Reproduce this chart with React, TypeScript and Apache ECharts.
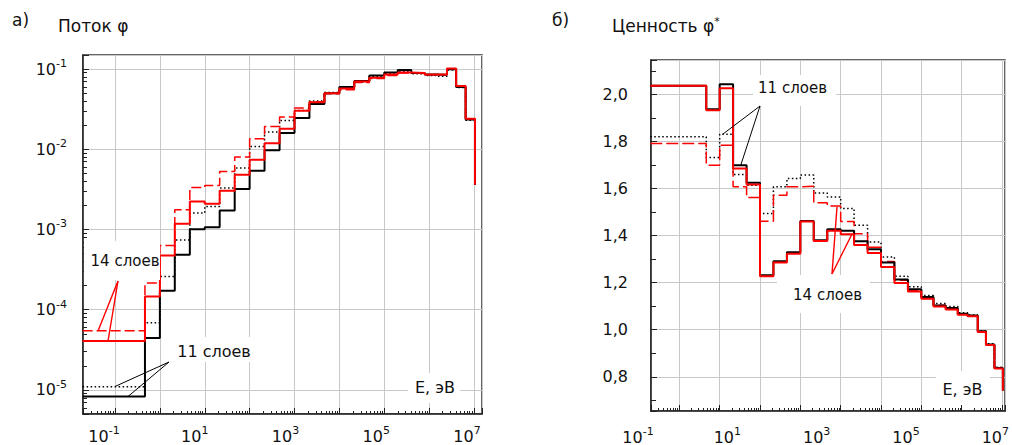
import React, { useEffect, useRef } from "react";
import * as echarts from "echarts";

// ---- Energy group structure (upper edges of groups, eV), BNAB-like ----
const groupUpperEdges = [
  0.465, 1, 2.15, 4.65, 10, 21.5, 46.5, 100, 215, 465, 1000, 2150, 4650, 1e4,
  2.15e4, 4.65e4, 1e5, 2e5, 4e5, 8e5, 1.4e6, 2.5e6, 4e6, 6.5e6, 1.05e7,
];
const thermalLowerEdge = 0.019;

// ---- Panel a: flux φ (25 groups + value at the closing edge) ----
const flux11Solid = [
  8.3e-6, 4.43e-5, 1.73e-4, 4.84e-4, 1.01e-3, 1.07e-3, 1.73e-3, 3.19e-3, 5.4e-3,
  9.7e-3, 1.59e-2, 2.45e-2, 3.66e-2, 5.0e-2, 5.96e-2, 7.08e-2, 8.32e-2, 9.07e-2,
  9.7e-2, 8.92e-2, 8.57e-2, 8.5e-2, 9.9e-2, 5.96e-2, 2.35e-2, 3.6e-3,
];
const flux11Dotted = [
  1.1e-5, 6.9e-5, 2.6e-4, 7.4e-4, 1.6e-3, 1.94e-3, 3.28e-3, 5.83e-3, 1.08e-2,
  1.64e-2, 2.28e-2, 3.05e-2, 4.0e-2, 5.1e-2, 5.9e-2, 6.9e-2, 8.1e-2, 8.8e-2,
  9.4e-2, 8.7e-2, 8.3e-2, 8.1e-2, 9.7e-2, 5.9e-2, 2.3e-2, 3.6e-3,
];
const flux14Solid = [
  4.09e-5, 1.46e-4, 4.74e-4, 1.18e-3, 2.23e-3, 2.09e-3, 3.04e-3, 4.81e-3, 7.4e-3,
  1.19e-2, 1.8e-2, 3.02e-2, 3.84e-2, 5.0e-2, 5.73e-2, 7.0e-2, 7.8e-2, 8.57e-2,
  9.07e-2, 8.92e-2, 8.57e-2, 8.57e-2, 1.017e-1, 6.14e-2, 2.4e-2, 3.6e-3,
];
const flux14Dashed = [
  5.46e-5, 2.15e-4, 6.3e-4, 1.76e-3, 3.34e-3, 3.54e-3, 5.28e-3, 7.98e-3, 1.35e-2,
  1.92e-2, 2.52e-2, 3.27e-2, 3.9e-2, 4.9e-2, 5.5e-2, 6.8e-2, 7.6e-2, 8.3e-2,
  8.9e-2, 8.8e-2, 8.5e-2, 8.5e-2, 1.0e-1, 6.1e-2, 2.4e-2, 3.6e-3,
];

// ---- Panel b: importance φ* ----
const imp11Solid = [
  2.037, 1.937, 2.043, 1.699, 1.624, 1.231, 1.291, 1.329, 1.462, 1.38, 1.427,
  1.42, 1.376, 1.342, 1.286, 1.213, 1.172, 1.139, 1.103, 1.092, 1.068, 1.06,
  0.993, 0.937, 0.837, 0.742,
];
const imp11Dotted = [
  1.82, 1.732, 1.831, 1.66, 1.614, 1.494, 1.607, 1.643, 1.657, 1.581, 1.564,
  1.515, 1.444, 1.373, 1.309, 1.227, 1.183, 1.145, 1.111, 1.099, 1.072, 1.063,
  0.995, 0.94, 0.84, 0.742,
];
const imp14Solid = [
  2.037, 1.933, 2.026, 1.685, 1.617, 1.227, 1.286, 1.323, 1.46, 1.377, 1.42,
  1.406, 1.36, 1.326, 1.266, 1.198, 1.162, 1.132, 1.099, 1.086, 1.064, 1.057,
  0.99, 0.935, 0.835, 0.742,
];
const imp14Dashed = [
  1.791, 1.699, 1.784, 1.607, 1.562, 1.461, 1.571, 1.607, 1.61, 1.539, 1.526,
  1.46, 1.408, 1.35, 1.29, 1.21, 1.168, 1.137, 1.104, 1.09, 1.066, 1.058,
  0.991, 0.936, 0.836, 0.742,
];

// ---- Axis ranges / tick labels ----
const xTickExponents = [-1, 1, 3, 5, 7];
const fluxRange = [5.02e-6, 0.1495];
const impRange = [0.6546, 2.146];
const xRangeA = [0.01936, 1.507e7];
const xRangeB = [0.01982, 1.187e7];

const FONT = "'DejaVu Sans', sans-serif";
const TXT = "#111";
const GRID_C = "#c8c8c8";

function stepData(values: number[]) {
  const lows = [thermalLowerEdge, ...groupUpperEdges.slice(0, groupUpperEdges.length - 1)];
  const pts: number[][] = lows.map((x, i) => [x, values[i]]);
  pts.push([groupUpperEdges[groupUpperEdges.length - 1], values[values.length - 1]]);
  return pts;
}

const richPow = {
  b: { fontSize: 16, lineHeight: 22, fontFamily: FONT, color: TXT },
  s: { fontSize: 11, lineHeight: 10, verticalAlign: "top", fontFamily: FONT, color: TXT },
};

function powLabel(v: number, only?: number[]) {
  const l = Math.log10(v);
  const e = Math.round(l);
  if (Math.abs(l - e) > 1e-6) return "";
  if (only && only.indexOf(e) < 0) return "";
  return `{b|10}{s|${e}}`;
}

function mainXAxis(gridIndex: number, range: number[]) {
  return {
    type: "log",
    gridIndex,
    min: range[0],
    max: range[1],
    logBase: 10,
    axisLine: { show: true, lineStyle: { color: "#222", width: 1.5 } },
    axisTick: { show: true, inside: true, length: 6, lineStyle: { color: "#222" } },
    minorTick: { show: true, splitNumber: 9, length: 3, lineStyle: { color: "#222" } },
    axisLabel: { show: false },
    splitLine: { show: true, lineStyle: { color: GRID_C, width: 1 } },
  };
}

function labelXAxis(gridIndex: number, margin: number) {
  return {
    type: "log",
    gridIndex,
    min: Math.pow(10, xTickExponents[0]),
    max: Math.pow(10, xTickExponents[xTickExponents.length - 1]),
    logBase: 10,
    axisLine: { show: false },
    axisTick: { show: false },
    splitLine: { show: false },
    axisLabel: {
      show: true,
      margin,
      formatter: (v: number) => powLabel(v, xTickExponents),
      rich: richPow,
    },
  };
}

function lineSeries(
  name: string,
  xi: number,
  values: number[],
  color: string,
  width: number,
  type: any,
  z: number
) {
  return {
    name,
    type: "line",
    xAxisIndex: xi,
    yAxisIndex: xi,
    step: "end",
    showSymbol: false,
    symbol: "none",
    data: stepData(values),
    lineStyle: { color, width, type },
    z,
    silent: true,
  };
}

function textEl(text: string, x: number, y: number, size: number, align = "center") {
  return {
    type: "text",
    x,
    y,
    z: 20,
    style: {
      text,
      font: `${size}px ${FONT}`,
      fill: TXT,
      textAlign: align,
      textVerticalAlign: "middle",
    },
  };
}
function boxEl(x: number, y: number, w: number, h: number) {
  return { type: "rect", z: 15, shape: { x, y, width: w, height: h }, style: { fill: "#fff" } };
}
function leader(x1: number, y1: number, x2: number, y2: number, color: string) {
  return {
    type: "line",
    z: 21,
    shape: { x1, y1, x2, y2 },
    style: { stroke: color, lineWidth: color === "#000" ? 1 : 1.4 },
  };
}

export default function App() {
  const ref = useRef<HTMLDivElement>(null);
  useEffect(() => {
    if (!ref.current) return;
    const chart = echarts.init(ref.current, undefined, { renderer: "svg" });
    const option: any = {
      animation: false,
      backgroundColor: "#fff",
      grid: [
        { left: 83, top: 55, width: 399, height: 359, show: true, borderColor: "#333", borderWidth: 1.5, backgroundColor: "transparent" },
        { left: 651, top: 60, width: 354, height: 351, show: true, borderColor: "#333", borderWidth: 1.5, backgroundColor: "transparent" },
        { left: 104, top: 55, width: 363, height: 359 },
        { left: 638, top: 60, width: 361, height: 351 },
      ],
      xAxis: [
        mainXAxis(0, xRangeA),
        mainXAxis(1, xRangeB),
        labelXAxis(2, 11),
        labelXAxis(3, 16),
      ],
      yAxis: [
        {
          type: "log",
          gridIndex: 0,
          min: fluxRange[0],
          max: fluxRange[1],
          logBase: 10,
          axisLine: { show: true, lineStyle: { color: "#222", width: 1.5 } },
          axisTick: { show: true, inside: true, length: 6, lineStyle: { color: "#222" } },
          minorTick: { show: true, splitNumber: 9, length: 4, lineStyle: { color: "#222" } },
          axisLabel: { margin: 16, formatter: (v: number) => powLabel(v), rich: richPow },
          splitLine: { show: true, lineStyle: { color: GRID_C, width: 1 } },
        },
        {
          type: "value",
          gridIndex: 1,
          min: impRange[0],
          max: impRange[1],
          splitNumber: 7,
          axisLine: { show: true, lineStyle: { color: "#222", width: 1.5 } },
          axisTick: { show: true, inside: true, length: 6, lineStyle: { color: "#222" } },
          minorTick: { show: true, splitNumber: 2, length: 5, lineStyle: { color: "#222" } },
          axisLabel: {
            margin: 23,
            fontSize: 16,
            fontFamily: FONT,
            color: TXT,
            formatter: (v: number) =>
              Math.abs(v * 5 - Math.round(v * 5)) > 1e-6 ? "" : v.toFixed(1).replace(".", ","),
          },
          splitLine: { show: true, lineStyle: { color: GRID_C, width: 1 } },
        },
        { type: "value", gridIndex: 2, min: 0, max: 1, show: false },
        { type: "value", gridIndex: 3, min: 0, max: 1, show: false },
      ],
      series: [
        lineSeries("11 слоев (пунктир)", 0, flux11Dotted, "#000", 1.5, [1.5, 2.5], 3),
        lineSeries("14 слоев (штрих)", 0, flux14Dashed, "#ff0000", 1.5, [10, 4], 4),
        lineSeries("11 слоев", 0, flux11Solid, "#000", 2, "solid", 5),
        lineSeries("14 слоев", 0, flux14Solid, "#ff0000", 2, "solid", 6),
        lineSeries("11 слоев (пунктир) φ*", 1, imp11Dotted, "#000", 1.5, [1.5, 2.5], 3),
        lineSeries("14 слоев (штрих) φ*", 1, imp14Dashed, "#ff0000", 1.5, [12, 4], 4),
        lineSeries("11 слоев φ*", 1, imp11Solid, "#000", 2, "solid", 5),
        lineSeries("14 слоев φ*", 1, imp14Solid, "#ff0000", 2, "solid", 6),
      ],
      graphic: [
        textEl("а)", 12, 20, 17, "left"),
        textEl("Поток φ", 58, 26, 17, "left"),
        textEl("б)", 552, 20, 17, "left"),
        {
          type: "text",
          x: 612,
          y: 26,
          z: 20,
          style: {
            text: "{a|Ценность φ}{s|*}",
            textAlign: "left",
            textVerticalAlign: "middle",
            rich: {
              a: { fontSize: 17, fontFamily: FONT, fill: TXT, color: TXT, lineHeight: 20 },
              s: { fontSize: 11, fontFamily: FONT, fill: TXT, color: TXT, lineHeight: 10, verticalAlign: "top" },
            },
          },
        },
        // panel a annotations
        boxEl(84, 241, 76, 39),
        textEl("14 слоев", 125, 260.5, 15),
        leader(118, 281, 98, 331, "#ff0000"),
        leader(118, 281, 108, 341, "#ff0000"),
        boxEl(169, 337, 92, 25),
        textEl("11 слоев", 214, 351, 16),
        leader(169, 362, 115, 386.5, "#000"),
        leader(169, 362, 128, 396.5, "#000"),
        boxEl(408, 373, 52, 30),
        textEl("E, эВ", 435, 387, 16),
        // panel b annotations
        boxEl(753, 75, 83, 31),
        textEl("11 слоев", 792.5, 88, 15),
        leader(760, 106, 723, 134, "#000"),
        leader(760, 106, 740.5, 166, "#000"),
        boxEl(777, 275, 93, 38),
        textEl("14 слоев", 827.5, 295, 15),
        leader(832, 274, 837, 207, "#ff0000"),
        leader(832, 274, 852, 234, "#ff0000"),
        boxEl(936, 371, 54, 34),
        textEl("E, эВ", 962.5, 389, 16),
      ],
    };
    chart.setOption(option);
    return () => chart.dispose();
  }, []);
  return (
    <div
      ref={ref}
      style={{ position: "absolute", left: 0, top: 0, width: 1012, height: 445, background: "#fff" }}
    />
  );
}
